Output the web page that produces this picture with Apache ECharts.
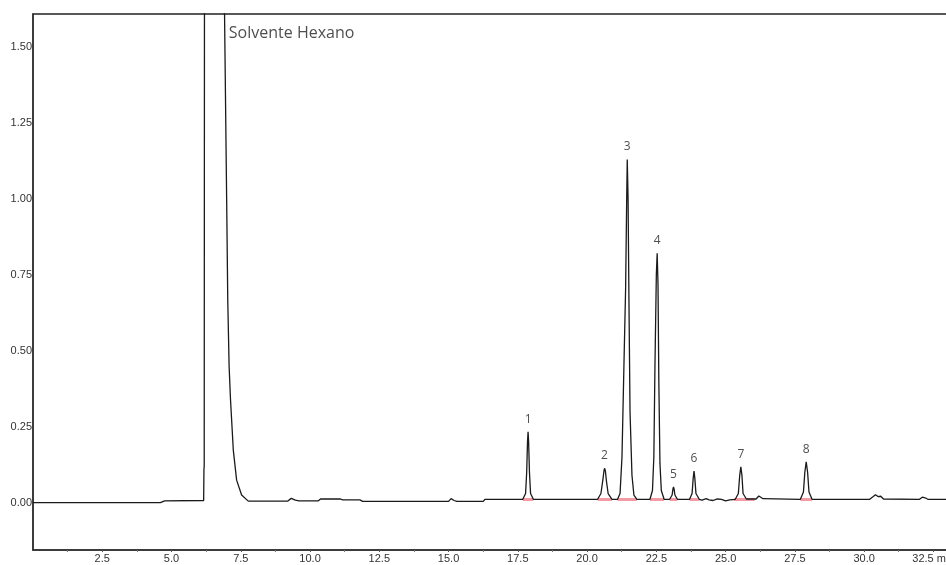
<!DOCTYPE html>
<html>
<head>
<meta charset="utf-8">
<script src="https://cdn.jsdelivr.net/npm/echarts@6/dist/echarts.min.js"></script>
<style>html,body{margin:0;padding:0;background:#fff;}#c{width:946px;height:565px;}</style>
</head>
<body>
<div id="c"></div>
<script>
// Retention time (min) / signal pairs
const traceTime = [0, 4.6, 4.75, 6.16, 6.17, 6.18, 6.19, 6.89, 6.99, 7.03, 7.08, 7.13, 7.23, 7.35, 7.53, 7.77,
  9.2, 9.32, 9.39, 9.47, 9.6, 10.3, 10.38, 11.1, 11.18, 11.8, 11.9, 15.0, 15.09, 15.2, 15.3, 16.25, 16.32,
  17.68, 17.78, 17.82, 17.85, 17.87, 17.89, 17.92, 17.96, 18.06,
  20.38, 20.50, 20.57, 20.61, 20.63, 20.66, 20.70, 20.76, 20.90,
  21.10, 21.19, 21.26, 21.33, 21.39, 21.43, 21.45, 21.48, 21.51, 21.55, 21.62, 21.69, 21.80,
  22.27, 22.36, 22.41, 22.45, 22.50, 22.53, 22.56, 22.59, 22.63, 22.68, 22.78,
  22.98, 23.07, 23.10, 23.12, 23.14, 23.17, 23.26,
  23.70, 23.79, 23.83, 23.86, 23.89, 23.93, 24.05,
  24.15, 24.30, 24.40, 24.55, 24.70, 24.85, 25.00, 25.15,
  25.35, 25.46, 25.51, 25.55, 25.59, 25.63, 25.75,
  26.10, 26.20, 26.27, 26.35,
  27.70, 27.81, 27.86, 27.91, 27.96, 28.01, 28.12,
  30.20, 30.33, 30.41, 30.50, 30.60, 30.70,
  32.00, 32.10, 32.20, 32.30, 33.00];
const traceSignal = [0.000, 0.000, 0.006, 0.007, 0.110, 0.120, 1.800, 1.800, 1.000, 0.667, 0.446, 0.338, 0.173, 0.074, 0.025, 0.005,
  0.005, 0.014, 0.015, 0.008, 0.006, 0.006, 0.012, 0.012, 0.009, 0.009, 0.004, 0.004, 0.013, 0.007, 0.004, 0.004, 0.011,
  0.011, 0.030, 0.100, 0.200, 0.233, 0.200, 0.100, 0.030, 0.011,
  0.011, 0.030, 0.075, 0.105, 0.113, 0.105, 0.070, 0.030, 0.011,
  0.011, 0.030, 0.150, 0.450, 0.700, 1.000, 1.130, 1.000, 0.680, 0.300, 0.090, 0.025, 0.011,
  0.011, 0.040, 0.150, 0.450, 0.750, 0.821, 0.720, 0.400, 0.130, 0.040, 0.011,
  0.011, 0.025, 0.045, 0.052, 0.045, 0.025, 0.011,
  0.011, 0.030, 0.080, 0.104, 0.080, 0.030, 0.011,
  0.008, 0.013, 0.009, 0.007, 0.012, 0.011, 0.006, 0.009,
  0.011, 0.030, 0.090, 0.118, 0.090, 0.030, 0.012,
  0.012, 0.022, 0.024, 0.013,
  0.011, 0.035, 0.100, 0.134, 0.100, 0.035, 0.011,
  0.011, 0.020, 0.026, 0.020, 0.021, 0.012,
  0.011, 0.018, 0.016, 0.011, 0.011];

// Numbered peaks
const peakNames = ['1', '2', '3', '4', '5', '6', '7', '8'];
const peakTimes = [17.87, 20.63, 21.45, 22.53, 23.12, 23.86, 25.55, 27.91];
const peakHeights = [0.233, 0.113, 1.130, 0.821, 0.052, 0.104, 0.118, 0.134];
// Integration baselines (red)
const peakStart = [17.68, 20.38, 21.10, 22.27, 22.98, 23.70, 25.30, 27.70];
const peakEnd = [18.06, 20.90, 21.80, 22.78, 23.26, 24.05, 26.05, 28.12];
const baseLevel = 0.011;

// Axis ticks
const xTicks = [2.5, 5.0, 7.5, 10.0, 12.5, 15.0, 17.5, 20.0, 22.5, 25.0, 27.5, 30.0, 32.5];
const yTicks = [0, 0.25, 0.5, 0.75, 1.0, 1.25, 1.5];

const annotText = 'Solvente Hexano';
const annotPos = [7.05, 1.545];

const traceData = traceTime.map((t, i) => [t, traceSignal[i]]);
const peakData = peakTimes.map((t, i) => ({ value: [t, peakHeights[i]], name: peakNames[i] }));
const baseSegs = peakStart.map((s, i) => [{ coord: [s, baseLevel] }, { coord: [peakEnd[i], baseLevel] }]);

const labelFont = { fontFamily: 'Liberation Sans Narrow, Arial Narrow, sans-serif', fontSize: 11, color: '#333' };

const chart = echarts.init(document.getElementById('c'), null, { renderer: 'canvas' });
chart.setOption({
  animation: false,
  backgroundColor: '#fff',
  grid: { left: 33, right: -4, top: 14, bottom: 15, containLabel: false, outerBoundsMode: 'none',
    show: true, borderColor: '#222', borderWidth: 1.5, backgroundColor: 'transparent' },
  xAxis: {
    type: 'value', min: 0, max: 33.1, interval: 2.5,
    axisLine: { show: true, onZero: false, lineStyle: { color: '#333', width: 1.5 } },
    axisTick: { show: true, length: 2, lineStyle: { color: '#555' }, customValues: xTicks },
    minorTick: { show: true, splitNumber: 2, length: 2, lineStyle: { color: '#777' } },
    splitLine: { show: false },
    axisLabel: Object.assign({ margin: 3, customValues: xTicks, hideOverlap: false,
      formatter: v => (Math.abs(v - 32.5) < 1e-6 ? '32.5 min' : v.toFixed(1)) }, labelFont)
  },
  yAxis: {
    type: 'value', min: -0.156, max: 1.609,
    axisLine: { show: true, onZero: false, lineStyle: { color: '#333', width: 1.5 } },
    axisTick: { show: false },
    splitLine: { show: false },
    axisLabel: Object.assign({ margin: 1, customValues: yTicks, formatter: v => v.toFixed(2) }, labelFont)
  },
  series: [
    {
      type: 'line', data: traceData, showSymbol: false, clip: true,
      lineStyle: { color: '#1a1a1a', width: 1.3 },
      markLine: {
        silent: true, symbol: ['none', 'none'], label: { show: false }, z: 1,
        lineStyle: { color: '#f08a95', width: 3, type: 'solid', opacity: 0.85 },
        data: baseSegs
      },
      z: 3
    },
    {
      type: 'scatter', data: peakData, symbolSize: 1, itemStyle: { color: 'rgba(0,0,0,0)' },
      label: { show: true, position: 'top', distance: 6, formatter: p => p.name,
        fontFamily: 'Open Sans, sans-serif', fontSize: 12, color: '#222' },
      z: 4
    },
    {
      type: 'scatter', data: [{ value: annotPos, name: annotText }], symbolSize: 1, itemStyle: { color: 'rgba(0,0,0,0)' },
      label: { show: true, position: 'right', distance: 0, formatter: p => p.name,
        fontFamily: 'Open Sans, sans-serif', fontSize: 16, color: '#222' },
      z: 4
    }
  ]
});
</script>
</body>
</html>
